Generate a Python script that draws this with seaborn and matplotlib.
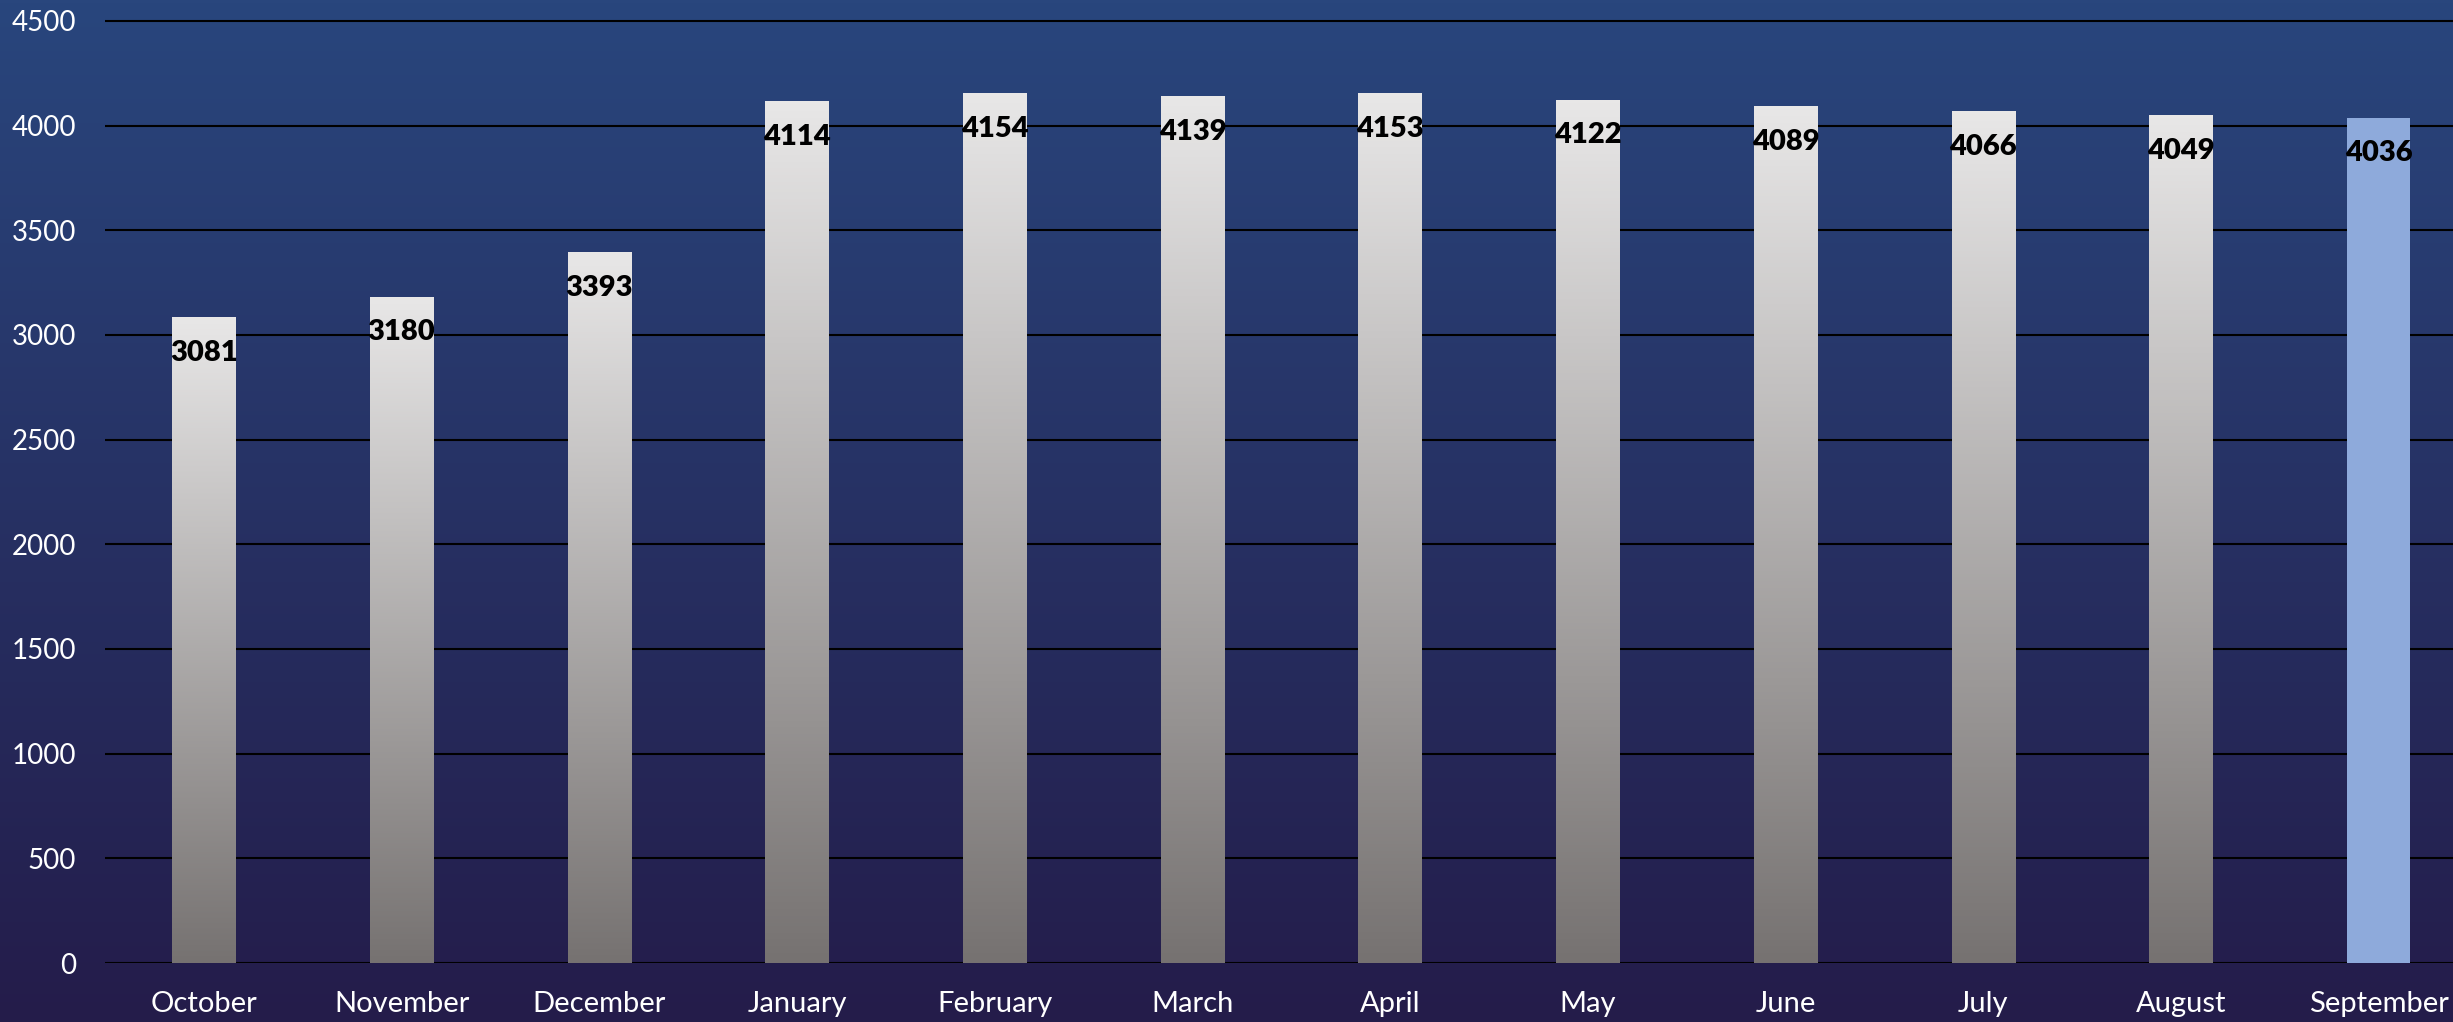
import matplotlib
matplotlib.use("Agg")
import matplotlib.pyplot as plt
from matplotlib.colors import LinearSegmentedColormap
import seaborn as sns
import pandas as pd
import numpy as np


# values
months = ["October", "November", "December", "January", "February", "March",
          "April", "May", "June", "July", "August", "September"]
counts = [3081, 3180, 3393, 4114, 4154, 4139, 4153, 4122, 4089, 4066, 4049, 4036]
highlight = "September"
y_ticks = [0, 500, 1000, 1500, 2000, 2500, 3000, 3500, 4000, 4500]

sns.set_theme(style="white")
plt.rcParams["font.family"] = ["Lato", "DejaVu Sans"]

W, H = 2453, 1022
fig = plt.figure(figsize=(W / 100, H / 100), dpi=100)

# background gradient (blue top -> dark purple bottom)
bg = fig.add_axes([0, 0, 1, 1], zorder=-1)
bg_cmap = LinearSegmentedColormap.from_list("bg", ["#29467d", "#241c4a"])
bg.imshow(np.linspace(0, 1, 256).reshape(-1, 1), aspect="auto", cmap=bg_cmap,
          extent=[0, 1, 0, 1])
bg.axis("off")

ax = fig.add_axes([105 / W, 59 / H, 1 - 105 / W, 952.6 / H])
ax.patch.set_alpha(0)

df = pd.DataFrame({"month": months, "count": counts})
sns.barplot(data=df, x="month", y="count", width=0.32, color="#e7e6e6",
            saturation=1, linewidth=0, ax=ax, zorder=2)

# grey gradient on each bar, September stays flat blue
bar_cmap = LinearSegmentedColormap.from_list("bar", ["#e8e7e7", "#767271"])
grad = np.linspace(0, 1, 256).reshape(-1, 1)
for bar, month, val in zip(ax.patches, months, counts):
    x0 = bar.get_x()
    w = bar.get_width()
    h = bar.get_height()
    bar.set_edgecolor("none")
    if month == highlight:
        bar.set_facecolor("#8eaadb")
    else:
        ax.imshow(grad, extent=[x0, x0 + w, 0, h], aspect="auto",
                  cmap=bar_cmap, zorder=3)
    ax.annotate(f"{val}", (x0 + w / 2, h), xytext=(0, -16),
                textcoords="offset points", ha="center", va="top",
                fontsize=21, fontweight="heavy", color="black", zorder=4)

ax.set_ylim(0, 4550)
ax.set_xlim(-0.5, 11.376)
ax.set_yticks(y_ticks)
ax.yaxis.grid(True, color="black", linewidth=1.5)
ax.xaxis.grid(False)
ax.set_axisbelow(True)
for s in ax.spines.values():
    s.set_visible(False)
ax.tick_params(axis="y", length=0, colors="white", labelsize=20, pad=21)
ax.tick_params(axis="x", length=0, colors="white", labelsize=21, pad=20)
ax.set_xlabel("")
ax.set_ylabel("")

fig.savefig("out.png", dpi=100)
